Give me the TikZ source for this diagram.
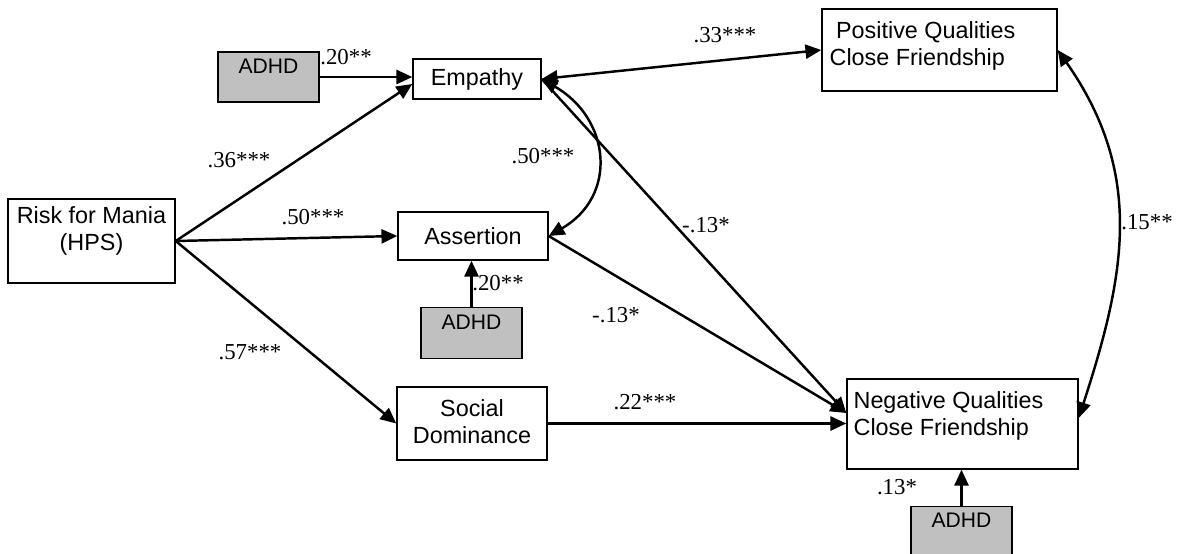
\documentclass[tikz,border=0pt]{standalone}
\usepackage{fontspec}
\setmainfont{Liberation Serif}
\setsansfont{Liberation Sans}
\usetikzlibrary{arrows.meta,calc,positioning}
\definecolor{adhdgray}{RGB}{192,192,192}
\tikzset{
    sem box/.style={
        draw,
        line width=0.85pt,
        fill=white,
        inner sep=0pt
    },
    sem adhd/.style={
        sem box,
        fill=adhdgray,
        minimum width=2.02cm,
        minimum height=1.02cm
    },
    sem text/.style={
        inner sep=0pt,
        align=center,
        font=\sffamily\fontsize{13.3}{15.5}\selectfont
    },
    sem adhd text/.style={
        inner sep=0pt,
        font=\sffamily\fontsize{12}{14}\selectfont
    },
    sem coef/.style={inner sep=0pt, font=\fontsize{13}{15}\selectfont},
    sem path/.style={-{Triangle[length=9pt,width=8pt]}, line width=1.4pt},
    sem cov/.style={{Triangle[length=9pt,width=8pt]}-{Triangle[length=9pt,width=8pt]}, line width=1.4pt}
}
\begin{document}
\begin{tikzpicture}[x=0.02cm,y=-0.02cm]
    \useasboundingbox (0,0) rectangle (1178,554);

    % boxes
    \node[sem box, minimum width=3.34cm, minimum height=1.68cm] (risk) at (91.5,241) {};
    \node[sem text, below=0.16cm of risk.north] (risktxt) {Risk for Mania\\(HPS)};

    \node[sem box, minimum width=2.56cm, minimum height=0.8cm] (empathy) at (477,79) {};
    \node[sem text] (emptxt) at (empathy.center) {Empathy};

    \node[sem box, minimum width=3.0cm, minimum height=0.96cm] (assertion) at (473,236) {};
    \node[sem text] (asstxt) at (assertion.center) {Assertion};

    \node[sem box, minimum width=3.0cm, minimum height=1.46cm] (social) at (472,423.5) {};
    \node[sem text] (soctxt) at ($(social.center)+(0,-2)$) {Social\\Dominance};

    \node[sem box, minimum width=4.7cm, minimum height=1.64cm] (positive) at (939.5,50) {};
    \node[sem text, align=left, anchor=north west] (postxt) at ($(positive.north west)+(8,13)$) {\ Positive Qualities\\Close Friendship};

    \node[sem box, minimum width=4.62cm, minimum height=1.8cm] (negative) at (962.5,424) {};
    \node[sem text, align=left, anchor=north west] (negtxt) at ($(negative.north west)+(7,13)$) {Negative Qualities\\Close Friendship};

    \node[sem adhd, minimum height=1.0cm] (adhdA) at (268.5,77) {};
    \node[sem adhd text, below=0.14cm of adhdA.north] (adhdAtxt) {ADHD};
    \node[sem adhd] (adhdB) at (471.5,333) {};
    \node[sem adhd text, below=0.16cm of adhdB.north] (adhdBtxt) {ADHD};
    \node[sem adhd] (adhdC) at (961.5,532) {};
    \node[sem adhd text, below=0.14cm of adhdC.north] (adhdCtxt) {ADHD};

    % paths
    \draw[sem path] (adhdA.east) -- (empathy.west |- adhdA.east);
    \draw[sem path] (risk.east) -- ($(empathy.west)+(0,5)$);
    \draw[sem path] (risk.east) -- (assertion.west);
    \draw[sem path] (risk.east) -- (social.west);
    \draw[sem path] (adhdB.north) -- (adhdB.north |- assertion.south);
    \draw[sem cov] (empathy.east) -- (positive.west);
    \draw[sem cov] (empathy.east) to[out=-30,in=30,looseness=1.3] (assertion.east);
    \draw[sem path] (empathy.east) -- ($(negative.west)+(0,-11)$);
    \draw[sem path] (assertion.east) -- ($(negative.west)+(0,-11)$);
    \draw[sem path] (social.east) -- (negative.west |- social.east);
    \draw[sem path] (adhdC.north) -- (adhdC.north |- negative.south);
    \draw[sem cov] (positive.east) to[out=-55,in=72,looseness=1.05] ($(negative.east)+(0,-6)$);

    % coefficients
    \node[sem coef] (cAdhdEmp) at (346,57) {.20**};
    \node[sem coef] (cRiskEmp) at (239,160) {.36***};
    \node[sem coef] (cRiskAss) at (313,217) {.50***};
    \node[sem coef] (cRiskSoc) at (250,352) {.57***};
    \node[sem coef] (cEmpPos) at (725,35) {.33***};
    \node[sem coef] (cEmpAss) at (543,156) {.50***};
    \node[sem coef] (cEmpNeg) at (706,225) {-.13*};
    \node[sem coef] (cAssNeg) at (616,315) {-.13*};
    \node[sem coef] (cAdhdAss) at (498,283) {.20**};
    \node[sem coef] (cSocNeg) at (645,402) {.22***};
    \node[sem coef] (cAdhdNeg) at (897,487) {.13*};
    \node[sem coef] (cPosNeg) at (1147,222) {.15**};
\end{tikzpicture}
\end{document}
